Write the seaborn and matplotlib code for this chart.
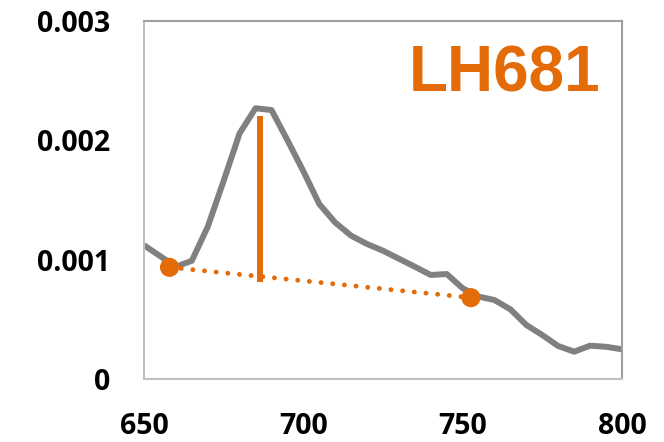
import matplotlib
matplotlib.use("Agg")
import matplotlib.pyplot as plt
import seaborn as sns
import pandas as pd

# Spectrum data (wavelength nm, absorbance-like value)
wavelength = [650, 655, 660, 665, 670, 675, 680, 685, 690, 695, 700,
              705, 710, 715, 720, 725, 730, 735, 740, 745, 750,
              755, 760, 765, 770, 775, 780, 785, 790, 795, 800]
signal = [0.00112, 0.00103, 0.00094, 0.00099, 0.001275, 0.00166, 0.002057, 0.002267,
          0.002252, 0.00200, 0.00174, 0.001465, 0.00131, 0.00120, 0.00113, 0.001074,
          0.001007, 0.00094, 0.000871, 0.000879, 0.00076, 0.00069, 0.000661, 0.000583,
          0.000452, 0.000368, 0.000276, 0.000229, 0.000279, 0.00027, 0.000249]

# Baseline anchor points and peak marker
baseline_x = [658, 752.6]
baseline_y = [0.000935, 0.000681]
peak_x = [686.4, 686.4]
peak_y = [0.00081, 0.0022]

label_text = "LH681"
xticks = [650, 700, 750, 800]
xticklabels = ["650", "700", "750", "800"]
yticks = [0, 0.001, 0.002, 0.003]
yticklabels = ["0", "0.001", "0.002", "0.003"]

ORANGE = "#E36C09"
GREY = "#808080"

sns.set_style("white")
plt.rcParams["font.family"] = ["Open Sans", "DejaVu Sans"]

fig = plt.figure(figsize=(6.64, 4.42), dpi=100)
ax = fig.add_axes([0.2169, 0.1425, 0.7198, 0.8107])

df = pd.DataFrame({"wavelength": wavelength, "signal": signal})
sns.lineplot(data=df, x="wavelength", y="signal", ax=ax, color=GREY, linewidth=4.3,
             solid_joinstyle="round", solid_capstyle="butt")

df_base = pd.DataFrame({"x": baseline_x, "y": baseline_y})
sns.lineplot(data=df_base, x="x", y="y", ax=ax, color=ORANGE, linewidth=3.5,
             linestyle=(0, (0.01, 2.4)), dash_capstyle="round")
sns.scatterplot(data=df_base, x="x", y="y", ax=ax, color=ORANGE, s=190,
                edgecolor="none", zorder=5)

df_peak = pd.DataFrame({"x": peak_x, "y": peak_y})
sns.lineplot(data=df_peak, x="x", y="y", ax=ax, color=ORANGE, linewidth=4.3,
             solid_capstyle="butt", sort=False, estimator=None)

ax.set_xlim(650, 800)
ax.set_ylim(0, 0.003)
ax.set_xticks(xticks)
ax.set_xticklabels(xticklabels)
ax.set_yticks(yticks)
ax.set_yticklabels(yticklabels)
ax.set_xlabel("")
ax.set_ylabel("")
ax.tick_params(axis="both", length=0, labelsize=20.5)
ax.tick_params(axis="y", pad=24.5)
ax.tick_params(axis="x", pad=24)
for lab in ax.get_xticklabels() + ax.get_yticklabels():
    lab.set_fontweight("bold")
    lab.set_color("black")

for side in ["left", "bottom"]:
    ax.spines[side].set_color("#C0C0C0")
    ax.spines[side].set_linewidth(1.5)
for side in ["top", "right"]:
    ax.spines[side].set_color("#A0A0A0")
    ax.spines[side].set_linewidth(1.5)

ax.text(0.955, 0.802, label_text, transform=ax.transAxes, ha="right", va="baseline",
        fontsize=46, fontweight="bold", color=ORANGE, family=["Liberation Sans", "DejaVu Sans"])

fig.savefig("out.png", dpi=100)
